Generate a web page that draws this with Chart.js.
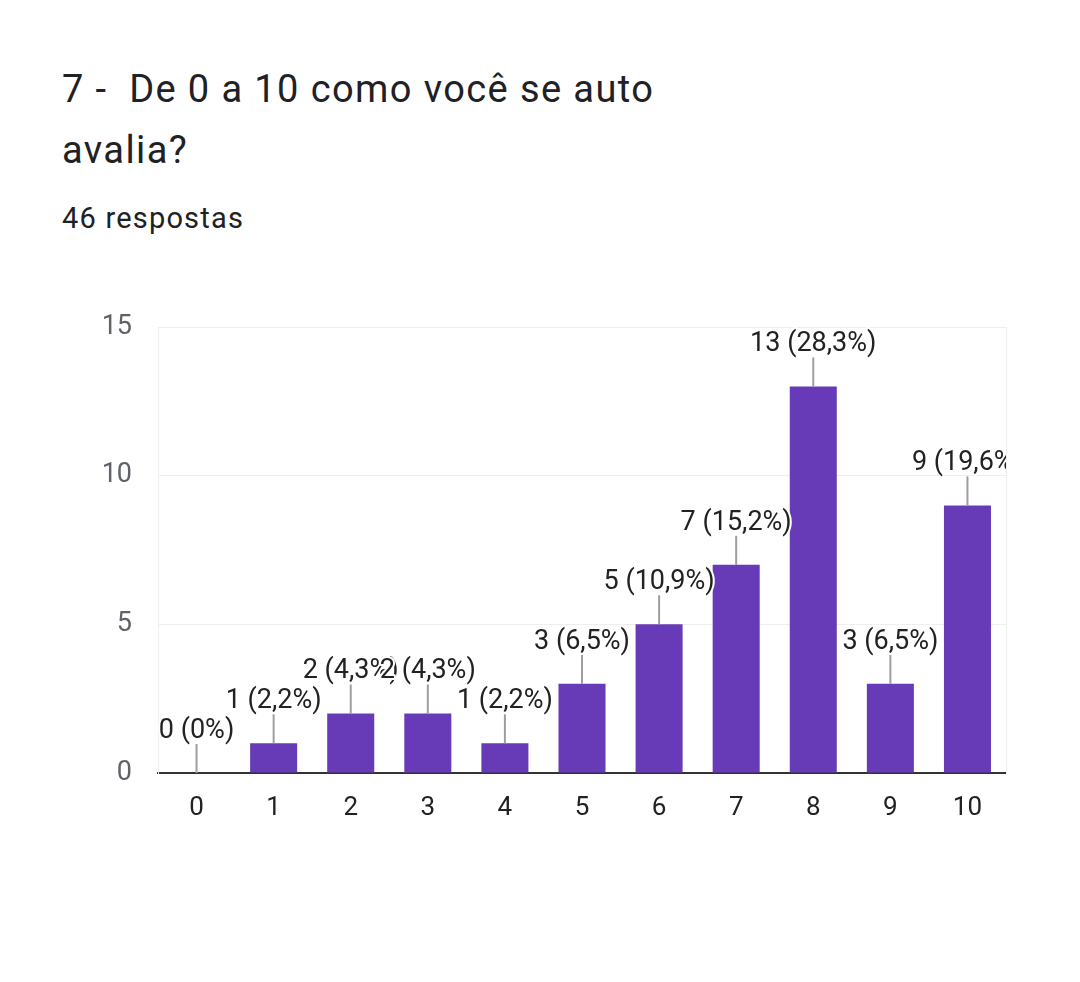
<!DOCTYPE html>
<html>
<head>
<meta charset="utf-8">
<script src="https://cdn.jsdelivr.net/npm/chart.js@4"></script>
<style>
  html, body { margin: 0; padding: 0; background: #fff; }
  body { width: 1080px; height: 982px; position: relative; overflow: hidden; font-family: Roboto, "Noto Sans", sans-serif; color: #202124; }
  .title { position: absolute; left: 62px; top: 59px; font-size: 38px; line-height: 61px; letter-spacing: 1.4px; white-space: nowrap; }
  .count { position: absolute; left: 62px; top: 201px; font-size: 29px; line-height: 34px; letter-spacing: 1.2px; }
  #chart { position: absolute; left: 0; top: 0; }
</style>
</head>
<body>
<div class="title">7 -&nbsp; De 0 a 10 como você se auto<br>avalia?</div>
<div class="count">46 respostas</div>
<canvas id="chart" width="1080" height="982"></canvas>
<script>
// Scores 0..10 and how many answers each got
const categories = ['0', '1', '2', '3', '4', '5', '6', '7', '8', '9', '10'];
const counts = [0, 1, 2, 2, 1, 3, 5, 7, 13, 3, 9];
const percents = ['0%', '2,2%', '4,3%', '4,3%', '2,2%', '6,5%', '10,9%', '15,2%', '28,3%', '6,5%', '19,6%'];
const yTicks = [0, 5, 10, 15];

// Draws "n (p%)" above each bar with a small leader line, like Google Forms does
const barLabels = {
    id: 'barLabels',
    afterDatasetsDraw(chart) {
        const ctx = chart.ctx;
        const area = chart.chartArea;
        const meta = chart.getDatasetMeta(0);
        ctx.save();
        ctx.beginPath();
        ctx.rect(area.left, 0, area.right - area.left, chart.height);
        ctx.clip();
        ctx.font = '27px Roboto';
        ctx.textAlign = 'center';
        ctx.textBaseline = 'middle';
        meta.data.forEach((bar, i) => {
            const top = bar.y;
            ctx.strokeStyle = '#9e9e9e';
            ctx.lineWidth = 2;
            ctx.beginPath();
            ctx.moveTo(bar.x, top - 29);
            ctx.lineTo(bar.x, top);
            ctx.stroke();
            const text = counts[i] + ' (' + percents[i] + ')';
            ctx.strokeStyle = '#ffffff';
            ctx.lineWidth = 4;
            ctx.lineJoin = 'round';
            ctx.strokeText(text, bar.x, top - 42);
            ctx.fillStyle = '#222222';
            ctx.fillText(text, bar.x, top - 42);
        });
        ctx.restore();
    }
};

new Chart(document.getElementById('chart').getContext('2d'), {
    type: 'bar',
    data: {
        labels: categories,
        datasets: [{
            data: counts,
            backgroundColor: '#673ab7',
            barPercentage: 0.61,
            categoryPercentage: 1.0
        }]
    },
    options: {
        responsive: false,
        animation: false,
        layout: { padding: { top: 327, left: 0, right: 0, bottom: 0 } },
        plugins: {
            legend: { display: false },
            tooltip: { enabled: false }
        },
        scales: {
            x: {
                grid: { drawOnChartArea: false, drawTicks: false },
                border: { display: true, color: '#333333', width: 2 },
                ticks: { color: '#222222', font: { family: 'Roboto', size: 26 }, padding: 20 },
                afterFit: s => { s.height = 982 - 773; }
            },
            y: {
                min: 0,
                max: 15,
                afterBuildTicks: s => { s.ticks = yTicks.map(v => ({ value: v })); },
                grid: { color: '#eeeeee', drawTicks: false },
                border: { display: true, color: '#eeeeee' },
                ticks: { color: '#5f6368', font: { family: 'Roboto', size: 27 }, padding: 26 },
                afterFit: s => { s.width = 158; }
            },
            y2: {
                position: 'right',
                min: 0,
                max: 15,
                grid: { drawOnChartArea: false, drawTicks: false },
                border: { display: true, color: '#eeeeee' },
                ticks: { display: false },
                afterFit: s => { s.width = 1080 - 1006; }
            }
        }
    },
    plugins: [barLabels]
});
</script>
</body>
</html>
